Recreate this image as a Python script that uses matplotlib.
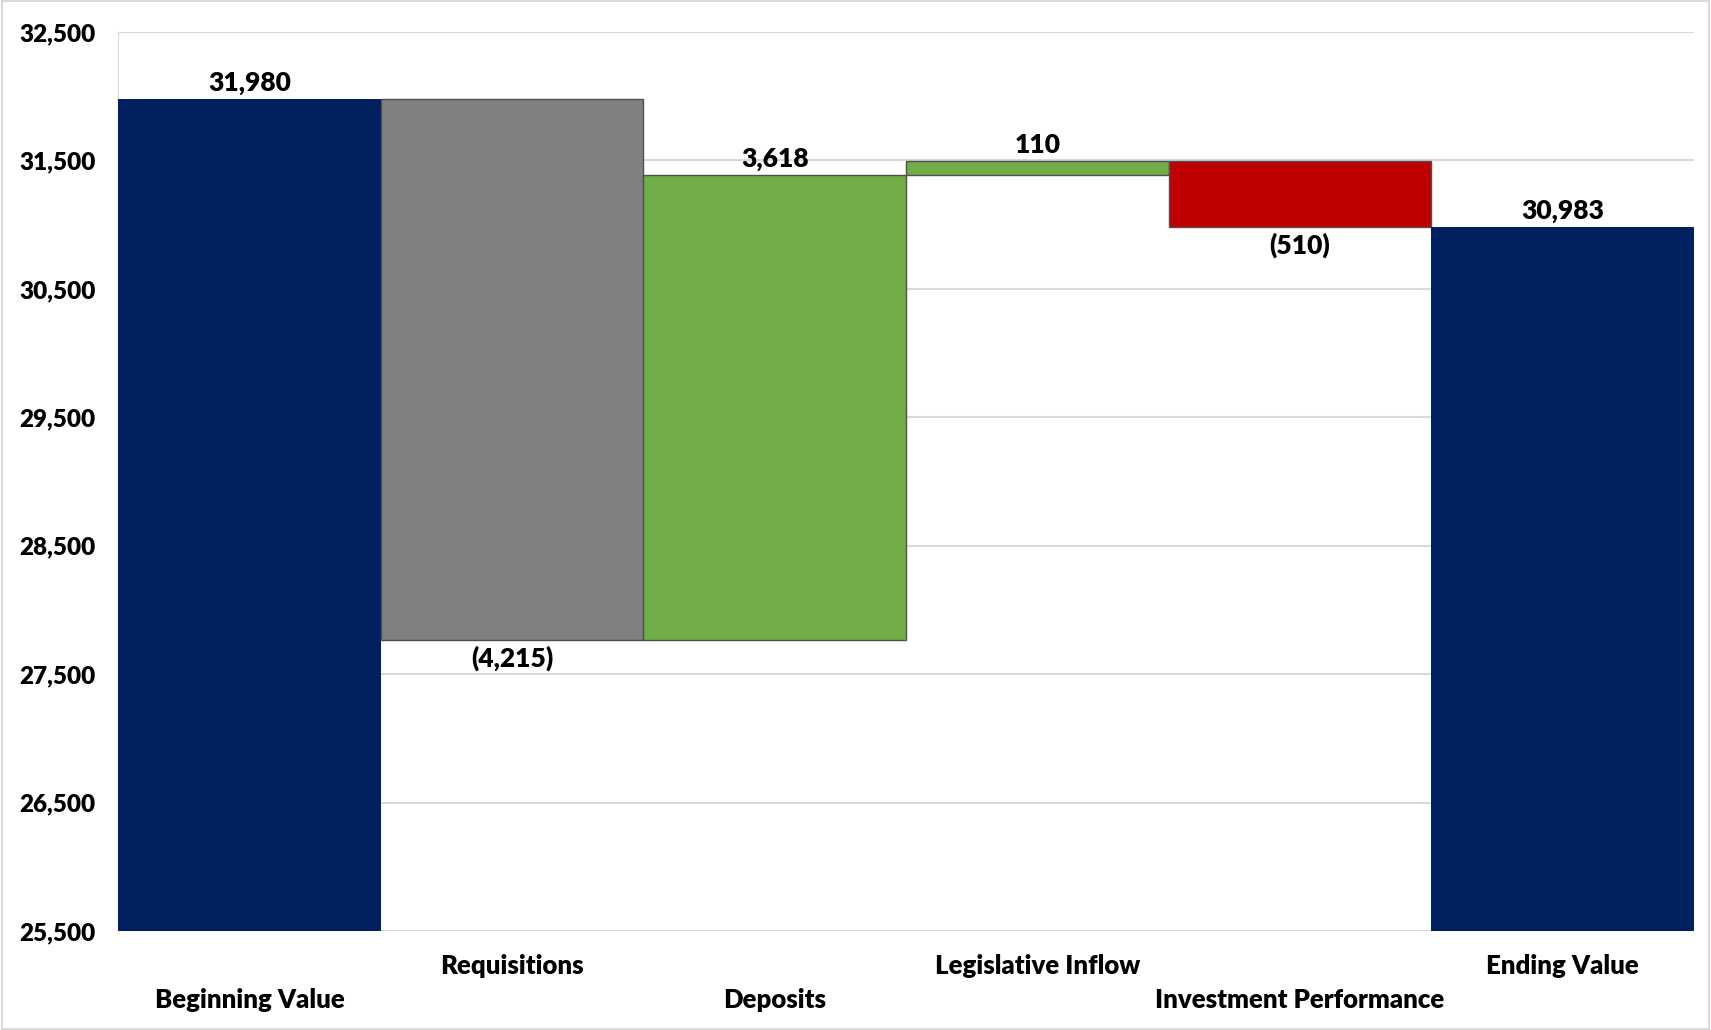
import matplotlib
matplotlib.use('Agg')
import matplotlib.pyplot as plt
import matplotlib.transforms as mtransforms
from matplotlib.patches import Rectangle
import numpy as np

# waterfall data
categories = ['Beginning Value', 'Requisitions', 'Deposits', 'Legislative Inflow',
              'Investment Performance', 'Ending Value']
changes = [31980, -4215, 3618, 110, -510, 30983]
colors = ['#002060', '#808080', '#70AD47', '#70AD47', '#C00000', '#002060']
yticks = [25500, 26500, 27500, 28500, 29500, 30500, 31500, 32500]

plt.rcParams['font.family'] = ['Lato', 'DejaVu Sans']
plt.rcParams['font.weight'] = 'heavy'
W = 'heavy'

# bottoms / heights
bottoms = []
heights = []
running = 0
for i, c in enumerate(changes):
    if i == 0 or i == len(changes) - 1:
        bottoms.append(0)
        heights.append(c)
        running = c
    else:
        if c >= 0:
            bottoms.append(running)
        else:
            bottoms.append(running + c)
        heights.append(abs(c))
        running = running + c

fig = plt.figure(figsize=(17.11, 10.30), dpi=100)
ax = fig.add_axes([0.069, 0.096, 0.921, 0.873])

x = np.arange(len(categories))
for i in range(len(categories)):
    total = (i == 0 or i == len(categories) - 1)
    ax.bar(x[i], heights[i], bottom=bottoms[i], width=1.0, color=colors[i],
           edgecolor='none' if total else '#505050',
           linewidth=0 if total else 1.0, zorder=3)

ax.set_ylim(25500, 32500)
ax.set_xlim(-0.5, len(categories) - 0.5)
ax.set_yticks(yticks)
ax.set_yticklabels([f'{v:,}' for v in yticks], fontsize=17.5, fontweight=W)
ax.tick_params(axis='y', length=0, pad=16)
ax.set_xticks([])
ax.grid(axis='y', color='#D9D9D9', linewidth=1.5, zorder=0)
for s in ['top', 'right', 'bottom']:
    ax.spines[s].set_visible(False)
ax.spines['left'].set_color('#D9D9D9')

# value labels
for i, c in enumerate(changes):
    if c >= 0:
        txt = f'{c:,}'
        yy = bottoms[i] + heights[i]
        ax.annotate(txt, (x[i], yy), xytext=(0, 3), textcoords='offset points',
                    ha='center', va='bottom', fontsize=19, fontweight=W)
    else:
        txt = f'({abs(c):,})'
        yy = bottoms[i]
        ax.annotate(txt, (x[i], yy), xytext=(0, -4), textcoords='offset points',
                    ha='center', va='top', fontsize=19, fontweight=W)

# staggered category labels
trans = mtransforms.blended_transform_factory(ax.transData, ax.transAxes)
for i, cat in enumerate(categories):
    off = -69 if i % 2 == 0 else -35
    ax.annotate(cat, (x[i], 0), xycoords=trans, xytext=(0, off * 0.72),
                textcoords='offset points', ha='center', va='center',
                fontsize=18.5, fontweight=W)

fig.patches.append(Rectangle((0.001, 0.001), 0.998, 0.998, transform=fig.transFigure,
                             fill=False, edgecolor='#D9D9D9', linewidth=1.5))

fig.savefig('out.png', dpi=100)
